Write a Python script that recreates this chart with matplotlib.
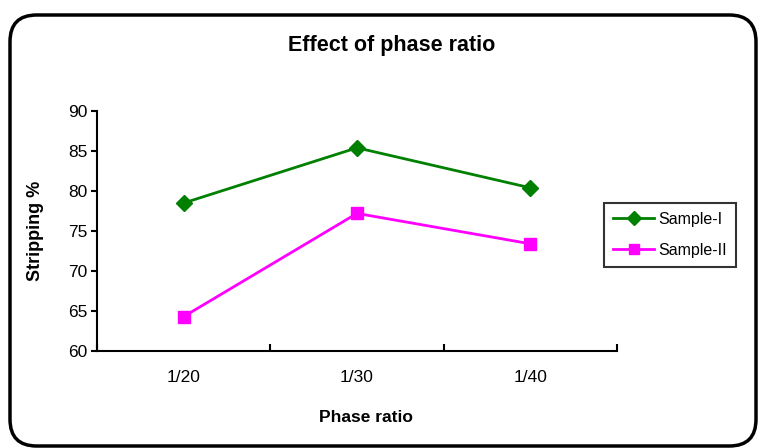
import matplotlib
matplotlib.use("Agg")
import matplotlib.pyplot as plt
from matplotlib.patches import FancyBboxPatch

categories = ["1/20", "1/30", "1/40"]
sample_1 = [78.5, 85.4, 80.4]
sample_2 = [64.3, 77.2, 73.4]

plt.rcParams["font.family"] = ["Liberation Sans", "DejaVu Sans"]

W, H = 761, 448
fig = plt.figure(figsize=(W / 100, H / 100), dpi=100)

# rounded outer frame
frame = FancyBboxPatch((10 / W, 2 / H), 746 / W, 431 / H,
                       boxstyle="round,pad=0,rounding_size=0.035",
                       transform=fig.transFigure, fill=False,
                       edgecolor="black", linewidth=2.5, mutation_aspect=W / H)
fig.patches.append(frame)

ax = fig.add_axes([97 / W, 1 - 351 / H, 520 / W, 240 / H])
x = range(len(categories))
ax.plot(x, sample_1, color="#008000", marker="D", markersize=8, linewidth=2, label="Sample-I")
ax.plot(x, sample_2, color="#ff00ff", marker="s", markersize=8, linewidth=2, label="Sample-II")

ax.set_xlim(-0.5, 2.5)
ax.set_ylim(60, 90)
ax.set_yticks(range(60, 91, 5))
ax.set_xticks([-0.5, 0.5, 1.5, 2.5], minor=False)
ax.set_xticklabels([])
ax.set_xticks(list(x), minor=True)
ax.set_xticklabels(categories, minor=True)
ax.tick_params(axis="x", which="minor", length=0, pad=14, labelsize=12.5)
ax.tick_params(axis="x", which="major", direction="in", length=5, width=1.5)
ax.tick_params(axis="y", direction="out", length=4, width=1.5, labelsize=12.5, pad=3)
for s in ["top", "right"]:
    ax.spines[s].set_visible(False)
for s in ["left", "bottom"]:
    ax.spines[s].set_linewidth(1.5)

ax.set_ylabel("Stripping %", fontsize=13, fontweight="bold")
ax.yaxis.set_label_coords((35 - 97) / 520, 0.5)
ax.set_xlabel("Phase ratio", fontsize=12.5, fontweight="bold")
ax.xaxis.set_label_coords((366 - 97) / 520, (351 - 417) / 240)
ax.xaxis.label.set_va("center")
ax.yaxis.label.set_va("center")
fig.text(392 / W, 1 - 46 / H, "Effect of phase ratio", ha="center", va="center",
         fontsize=15.5, fontweight="bold")

leg = fig.legend(loc="center", bbox_to_anchor=(670 / W, 1 - 235 / H), frameon=True,
                 fancybox=False, edgecolor="black", fontsize=11.5, handlelength=2.6,
                 handletextpad=0.25, borderpad=0.55, labelspacing=1.0, borderaxespad=0)
leg.get_frame().set_linewidth(1.5)
for h in leg.legend_handles:
    h.set_markersize(7)

fig.savefig("out.png", dpi=100)
